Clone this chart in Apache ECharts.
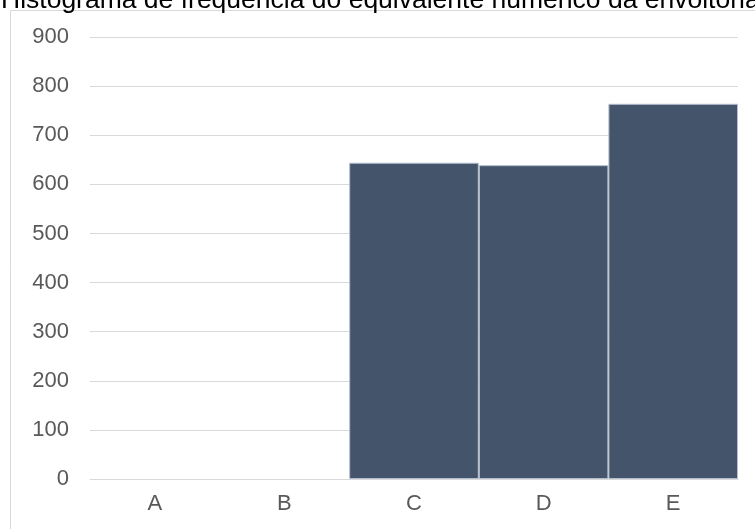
<!DOCTYPE html>
<html>
<head>
<meta charset="utf-8">
<script src="https://cdn.jsdelivr.net/npm/echarts@6/dist/echarts.min.js"></script>
<style>
  html, body { margin: 0; padding: 0; background: #fff; }
  #chart { width: 755px; height: 529px; }
</style>
</head>
<body>
<div id="chart"></div>
<script>
// histogram bins and counts
const categories = ['A', 'B', 'C', 'D', 'E']
const counts = [0, 0, 644, 639, 764]
const yTicks = { min: 0, max: 900, interval: 100 }

const chart = echarts.init(document.getElementById('chart'))

const option = {
  backgroundColor: '#fff',
  textStyle: { fontFamily: 'Liberation Sans, Arial, sans-serif' },
  title: {
    text: 'Histograma de frequência do equivalente numérico da envoltória',
    left: 1,
    top: -13,
    padding: 0,
    textStyle: { fontSize: 26.5, fontWeight: 'normal', color: '#000' }
  },
  // outer chart-area frame
  graphic: [{
    type: 'rect',
    silent: true,
    shape: { x: 10.5, y: 10.5, width: 800, height: 600 },
    style: { fill: 'none', stroke: '#d9d9d9', lineWidth: 1 }
  }],
  grid: { left: 90, right: 17, top: 37, bottom: 50 },
  xAxis: {
    type: 'category',
    data: categories,
    axisTick: { show: false },
    axisLine: { lineStyle: { color: '#d9d9d9', width: 1 } },
    axisLabel: { color: '#595959', fontSize: 22, margin: 14 }
  },
  yAxis: {
    type: 'value',
    min: yTicks.min,
    max: yTicks.max,
    interval: yTicks.interval,
    axisLine: { show: false },
    axisTick: { show: false },
    axisLabel: { color: '#595959', fontSize: 22, margin: 21 },
    splitLine: { lineStyle: { color: '#d9d9d9', width: 1 } }
  },
  series: [{
    type: 'bar',
    // empty bins get no outline so the axis line stays grey
    data: counts.map(v => v === 0 ? { value: v, itemStyle: { borderWidth: 0 } } : v),
    barCategoryGap: '0%',
    itemStyle: { color: '#44546a', borderColor: '#b4bed0', borderWidth: 1 }
  }]
}

chart.setOption(option)
</script>
</body>
</html>
